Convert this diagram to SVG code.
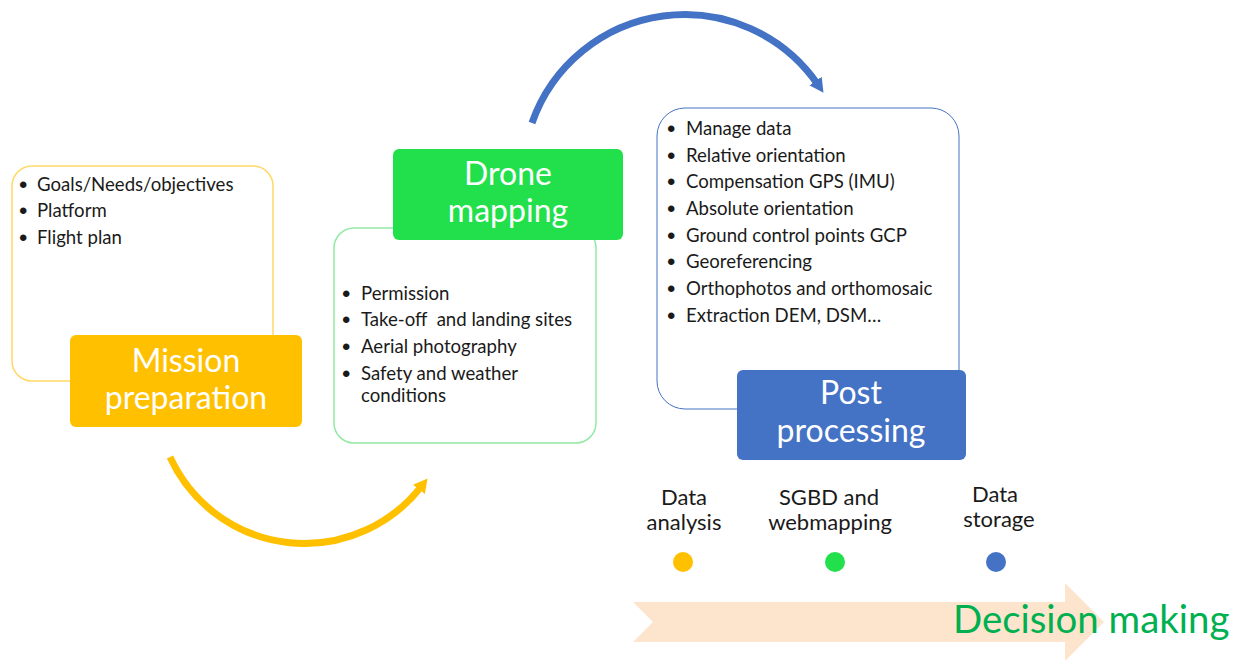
<svg xmlns="http://www.w3.org/2000/svg" width="1239" height="660" viewBox="0 0 1239 660">
  <style>
    .bul { font-family: Lato, "Liberation Sans", sans-serif; font-size: 18.6px; fill: #1a1a1a; }
    .dot { font-family: "Liberation Sans", Arial, sans-serif; font-size: 24px; fill: #1a1a1a; }
    .hdr { font-family: Lato, "Liberation Sans", sans-serif; font-size: 32px; fill: #ffffff; text-anchor: middle; }
    .lbl { font-family: Lato, "Liberation Sans", sans-serif; font-size: 22px; fill: #1a1a1a; text-anchor: middle; }
    .dec { font-family: Lato, "Liberation Sans", sans-serif; font-size: 38.4px; fill: #00B050; }
    .conn { fill: none; stroke-width: 7; }
  </style>
  <defs>
    <marker id="ahY" markerUnits="userSpaceOnUse" markerWidth="18" markerHeight="18" viewBox="0 0 18 18" refX="4" refY="9" orient="auto">
      <path d="M0,1.5 L14,9 L0,16.5 z" fill="#FFC000"/>
    </marker>
    <marker id="ahB" markerUnits="userSpaceOnUse" markerWidth="18" markerHeight="18" viewBox="0 0 18 18" refX="4" refY="9" orient="auto">
      <path d="M0,1.5 L14,9 L0,16.5 z" fill="#4472C4"/>
    </marker>
  </defs>
  <rect width="1239" height="660" fill="#ffffff"/>

  <g id="decision-arrow">
    <polygon points="633,602 1065,602 1065,583 1104,622 1065,661 1065,642 633,642 653,622" fill="#FCE5CC"/>
    <text class="dec" x="953" y="633">Decision making</text>
  </g>

  <g id="connectors">
    <path class="conn" stroke="#FFC000" d="M170,457 A148,148 0 0,0 421.4,486.3" marker-end="url(#ahY)"/>
    <path class="conn" stroke="#4472C4" d="M532,123 A161.7,161.7 0 0,1 817.8,84.4" marker-end="url(#ahB)"/>
  </g>

  <g id="mission-preparation">
    <rect x="12" y="166" width="261" height="215" rx="20" fill="#ffffff" stroke="#FFD966" stroke-width="1.5"/>
    <text class="dot" x="19" y="193">•</text><text class="bul" x="37" y="191">Goals/Needs/objectives</text>
    <text class="dot" x="19" y="219">•</text><text class="bul" x="37" y="217">Platform</text>
    <text class="dot" x="19" y="246">•</text><text class="bul" x="37" y="244">Flight plan</text>
    <rect x="70" y="335" width="232" height="92" rx="6" fill="#FFC000"/>
    <text class="hdr" x="186" y="372">Mission</text>
    <text class="hdr" x="186" y="409">preparation</text>
  </g>

  <g id="drone-mapping">
    <rect x="334" y="228" width="262" height="215" rx="20" fill="#ffffff" stroke="#92E9A4" stroke-width="1.5"/>
    <text class="dot" x="342" y="302">•</text><text class="bul" x="361" y="300">Permission</text>
    <text class="dot" x="342" y="328">•</text><text class="bul" x="361" y="326">Take-off&#160; and landing sites</text>
    <text class="dot" x="342" y="355">•</text><text class="bul" x="361" y="353">Aerial photography</text>
    <text class="dot" x="342" y="382">•</text><text class="bul" x="361" y="380">Safety and weather</text>
    <text class="bul" x="361" y="402">conditions</text>
    <rect x="393" y="149" width="230" height="91" rx="6" fill="#22E04B"/>
    <text class="hdr" x="508" y="185">Drone</text>
    <text class="hdr" x="508" y="222">mapping</text>
  </g>

  <g id="post-processing">
    <rect x="657" y="108" width="302" height="301" rx="28" fill="#ffffff" stroke="#4472C4" stroke-width="1"/>
    <text class="dot" x="667" y="137">•</text><text class="bul" x="686" y="135">Manage data</text>
    <text class="dot" x="667" y="164">•</text><text class="bul" x="686" y="162">Relative orientation</text>
    <text class="dot" x="667" y="190">•</text><text class="bul" x="686" y="188">Compensation GPS (IMU)</text>
    <text class="dot" x="667" y="217">•</text><text class="bul" x="686" y="215">Absolute orientation</text>
    <text class="dot" x="667" y="244">•</text><text class="bul" x="686" y="242">Ground control points GCP</text>
    <text class="dot" x="667" y="270">•</text><text class="bul" x="686" y="268">Georeferencing</text>
    <text class="dot" x="667" y="297">•</text><text class="bul" x="686" y="295">Orthophotos and orthomosaic</text>
    <text class="dot" x="667" y="324">•</text><text class="bul" x="686" y="322">Extraction DEM, DSM…</text>
    <rect x="737" y="370" width="229" height="90" rx="6" fill="#4472C4"/>
    <text class="hdr" x="851" y="404">Post</text>
    <text class="hdr" x="851" y="442">processing</text>
  </g>

  <g id="data-analysis">
    <text class="lbl" x="684" y="505">Data</text>
    <text class="lbl" x="684" y="530">analysis</text>
    <circle cx="683" cy="562" r="10" fill="#FFC000"/>
  </g>
  <g id="sgbd-webmapping">
    <text class="lbl" x="829" y="505">SGBD and</text>
    <text class="lbl" x="830" y="530">webmapping</text>
    <circle cx="835" cy="562" r="10" fill="#22E04B"/>
  </g>
  <g id="data-storage">
    <text class="lbl" x="995" y="502">Data</text>
    <text class="lbl" x="999" y="527">storage</text>
    <circle cx="996" cy="562" r="10" fill="#4472C4"/>
  </g>
</svg>
